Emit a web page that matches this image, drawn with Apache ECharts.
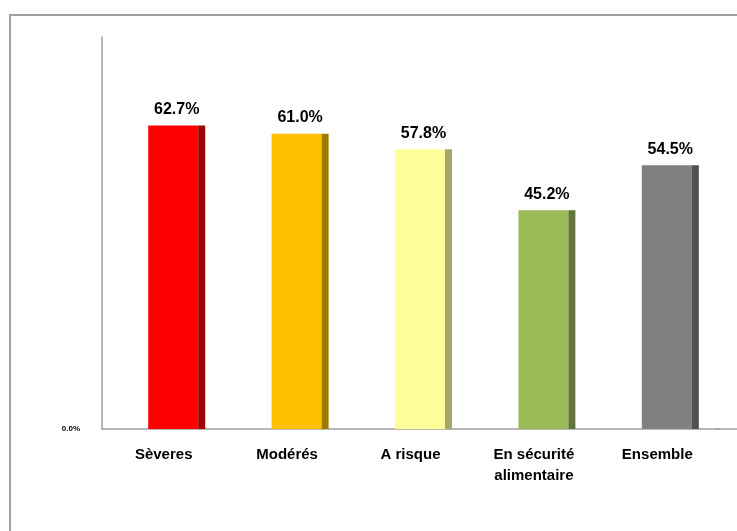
<!DOCTYPE html>
<html>
<head>
<meta charset="utf-8">
<script src="https://cdn.jsdelivr.net/npm/echarts@6/dist/echarts.min.js"></script>
<style>
  html, body { margin: 0; padding: 0; background: #fff; }
  #chart { width: 737px; height: 531px; }
</style>
</head>
<body>
<div id="chart"></div>
<script>
// values
const categories = ['Sèveres', 'Modérés', 'A risque', 'En sécurité\nalimentaire', 'Ensemble'];
const shares = [62.7, 61.0, 57.8, 45.2, 54.5];
const frontColors = ['#FF0000', '#FFC000', '#FFFF99', '#9BBB59', '#808080'];
const sideColors = ['#A00000', '#A07A00', '#A6A66B', '#62763A', '#515151'];

const FONT = '"Liberation Sans", Arial, sans-serif';

const chart = echarts.init(document.getElementById('chart'), null, { renderer: 'canvas' });

const option = {
    animation: false,
    grid: { left: 102, right: 18, top: 37, bottom: 102 },
    xAxis: {
        type: 'category',
        data: categories,
        axisLine: { show: true, lineStyle: { color: '#A0A0A0', width: 1.5 } },
        axisTick: { show: false },
        axisLabel: {
            margin: 15,
            color: '#000',
            fontFamily: FONT,
            fontWeight: 'bold',
            fontSize: 15,
            lineHeight: 21,
            interval: 0
        }
    },
    yAxis: {
        type: 'value',
        min: 0,
        max: 81,
        interval: 81,
        splitLine: { show: false },
        axisLine: { show: true, lineStyle: { color: '#A0A0A0', width: 1.5 } },
        axisTick: { show: false },
        axisLabel: {
            margin: 22,
            color: '#000',
            fontFamily: FONT,
            fontWeight: 'bold',
            fontSize: 8,
            formatter: v => (v === 0 ? '0.0%' : '')
        }
    },
    graphic: [
        // outer frame, cut by the right and bottom edges
        { type: 'rect', shape: { x: 10, y: 15, width: 760, height: 560 },
          style: { fill: 'none', stroke: '#A0A0A0', lineWidth: 2 }, silent: true },
        // x axis line carries on to the edge
        { type: 'line', shape: { x1: 715, y1: 429, x2: 737, y2: 429 },
          style: { stroke: '#A0A0A0', lineWidth: 1.5 }, silent: true }
    ],
    series: [{
        type: 'custom',
        data: shares.map((v, i) => [i, v]),
        encode: { x: 0, y: 1 },
        renderItem: (params, api) => {
            const i = api.value(0);
            const v = api.value(1);
            const top = api.coord([i, v]);
            const base = api.coord([i, 0]);
            const x0 = top[0] + 13 - 28.5;
            const h = base[1] - top[1];
            return {
                type: 'group',
                children: [
                    { type: 'rect', shape: { x: x0, y: top[1], width: 50, height: h },
                      style: { fill: frontColors[i] } },
                    { type: 'rect', shape: { x: x0 + 50, y: top[1], width: 7, height: h },
                      style: { fill: sideColors[i] } },
                    { type: 'text', x: x0 + 28.5, y: top[1] - 8,
                      style: { text: v.toFixed(1) + '%', align: 'center', verticalAlign: 'bottom',
                               fill: '#000', font: 'bold 16px ' + FONT } }
                ]
            };
        }
    }]
};

chart.setOption(option);
</script>
</body>
</html>
